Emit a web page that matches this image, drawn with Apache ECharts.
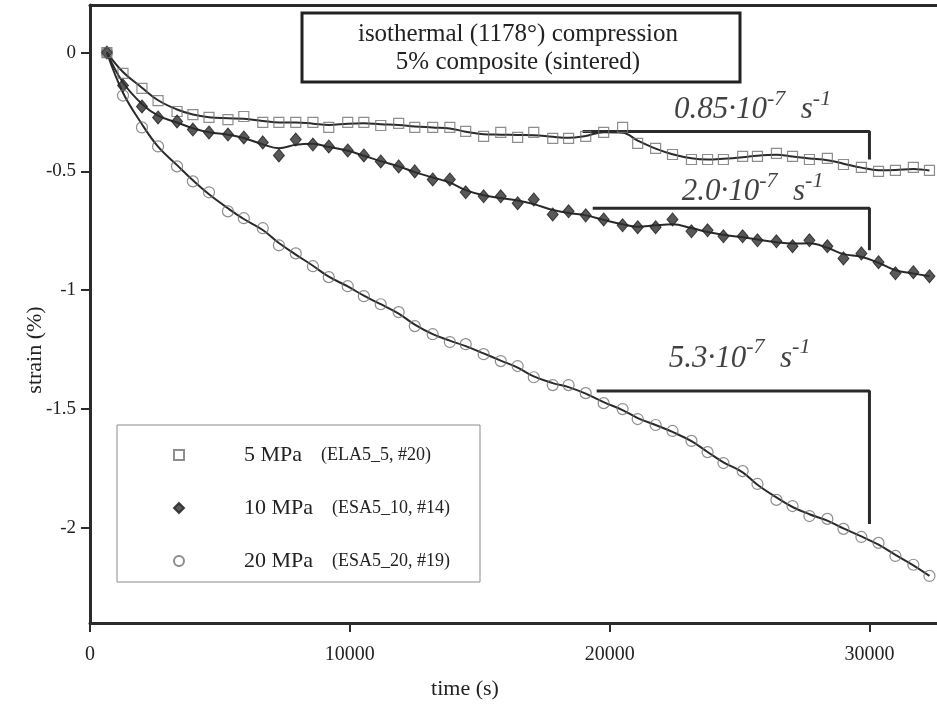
<!DOCTYPE html>
<html>
<head>
<meta charset="utf-8">
<script src="https://cdn.jsdelivr.net/npm/echarts@6/dist/echarts.min.js"></script>
<style>
  html, body { margin: 0; padding: 0; background: #fff; }
  #chart { width: 937px; height: 704px; }
</style>
</head>
<body>
<div id="chart"></div>
<script>
// Sampling times (s), shared by the three creep runs
const timeS = [650, 1270, 2000, 2620, 3350, 3960, 4580, 5310, 5920, 6650,
  7270, 7920, 8580, 9190, 9920, 10540, 11190, 11880, 12500, 13190,
  13850, 14460, 15150, 15810, 16460, 17080, 17810, 18420, 19080, 19770,
  20500, 21080, 21770, 22420, 23150, 23770, 24380, 25120, 25690, 26420,
  27040, 27690, 28380, 29000, 29690, 30350, 31000, 31690, 32310];

// Strain (%) at 5 MPa
const strain5 = [0, -0.088, -0.151, -0.202, -0.248, -0.261, -0.273, -0.282, -0.269, -0.294,
  -0.294, -0.294, -0.294, -0.315, -0.294, -0.294, -0.307, -0.298, -0.315, -0.315,
  -0.315, -0.332, -0.353, -0.336, -0.357, -0.336, -0.361, -0.361, -0.353, -0.336,
  -0.315, -0.382, -0.403, -0.429, -0.450, -0.450, -0.450, -0.437, -0.437, -0.424,
  -0.437, -0.450, -0.445, -0.471, -0.483, -0.500, -0.496, -0.483, -0.496];

// Strain (%) at 10 MPa
const strain10 = [0, -0.139, -0.227, -0.273, -0.290, -0.324, -0.336, -0.345, -0.357, -0.378,
  -0.433, -0.366, -0.387, -0.395, -0.412, -0.433, -0.458, -0.479, -0.500, -0.534,
  -0.534, -0.588, -0.605, -0.605, -0.634, -0.618, -0.681, -0.668, -0.685, -0.702,
  -0.727, -0.735, -0.735, -0.702, -0.752, -0.748, -0.773, -0.773, -0.790, -0.794,
  -0.815, -0.790, -0.815, -0.866, -0.845, -0.882, -0.929, -0.924, -0.941];

// Strain (%) at 20 MPa
const strain20 = [0, -0.181, -0.315, -0.395, -0.479, -0.542, -0.588, -0.668, -0.697, -0.739,
  -0.811, -0.845, -0.899, -0.945, -0.983, -1.025, -1.059, -1.092, -1.151, -1.185,
  -1.218, -1.227, -1.269, -1.298, -1.319, -1.366, -1.399, -1.399, -1.433, -1.475,
  -1.500, -1.542, -1.567, -1.592, -1.634, -1.681, -1.727, -1.761, -1.815, -1.882,
  -1.908, -1.950, -1.962, -2.004, -2.038, -2.063, -2.118, -2.155, -2.202];

const seriesNames = ['5 MPa', '10 MPa', '20 MPa'];
const sampleIds = ['(ELA5_5, #20)', '(ESA5_10, #14)', '(ESA5_20, #19)'];

const xTicks = [0, 10000, 20000, 30000];
const yTicks = [0, -0.5, -1, -1.5, -2];

// Slope guides: horizontal run then vertical drop
const guide085 = [[18960, -0.332], [30000, -0.332], [30000, -0.450]];
const guide20 = [[19350, -0.655], [30000, -0.655], [30000, -0.832]];
const guide53 = [[19500, -1.424], [30000, -1.424], [30000, -1.983]];

// Strain-rate captions: [time, strain] anchor and mantissa
const rateAnchors = [[25500, -0.228], [25500, -0.573], [25000, -1.275]];
const rateMantissas = ['0.85', '2.0', '5.3'];

const SERIF = '"Liberation Serif", "Times New Roman", serif';
const INK = '#222';

// Light three-point running mean used for the drawn fit curves
function fitCurve(values) {
  return values.map((v, i) => {
    if (i === 0 || i === values.length - 1) return v;
    return 0.25 * values[i - 1] + 0.5 * v + 0.25 * values[i + 1];
  });
}
function pairs(xs, ys) { return xs.map((x, i) => [x, ys[i]]); }

const strains = [strain5, strain10, strain20];
const markerStyles = [
  { symbol: 'rect', size: 10, item: { color: 'rgba(255,255,255,0)', borderColor: '#707070', borderWidth: 1.2 } },
  { symbol: 'diamond', size: [11, 13], item: { color: '#2e2e2e', borderColor: '#1e1e1e', borderWidth: 1 } },
  { symbol: 'circle', size: 11, item: { color: 'rgba(255,255,255,0)', borderColor: '#707070', borderWidth: 1.2 } }
];

const series = [];
strains.forEach((ys, k) => {
  series.push({
    name: 'fit ' + seriesNames[k],
    type: 'line',
    data: pairs(timeS, fitCurve(ys)),
    smooth: 0.4,
    showSymbol: false,
    lineStyle: { color: '#2a2a2a', width: 2 },
    z: 2,
    silent: true
  });
  series.push({
    name: seriesNames[k],
    type: 'scatter',
    data: pairs(timeS, ys),
    symbol: markerStyles[k].symbol,
    symbolSize: markerStyles[k].size,
    itemStyle: markerStyles[k].item,
    z: 3
  });
});

[guide085, guide20, guide53].forEach(g => {
  series.push({
    type: 'line',
    data: g,
    showSymbol: false,
    lineStyle: { color: '#2a2a2a', width: 3 },
    z: 2,
    silent: true
  });
});

series.push({
  name: 'rate captions',
  type: 'scatter',
  data: rateAnchors.map((p, i) => ({ value: p, mant: rateMantissas[i] })),
  symbolSize: 1,
  itemStyle: { color: 'rgba(0,0,0,0)' },
  label: {
    show: true,
    position: 'inside',
    formatter: p => `{b|${p.data.mant}·10}{s|-7}{b|  s}{s|-1}`,
    rich: {
      b: { fontFamily: SERIF, fontStyle: 'italic', fontSize: 31, color: '#111', lineHeight: 38, verticalAlign: 'bottom' },
      s: { fontFamily: SERIF, fontStyle: 'italic', fontSize: 22, color: '#111', lineHeight: 38, verticalAlign: 'top' }
    }
  },
  z: 4,
  silent: true
});

const axisLineStyle = { color: '#2b2b2b', width: 3 };

const option = {
  animation: false,
  backgroundColor: '#fff',
  grid: { left: 90, right: 0, top: 5, height: 618, containLabel: false },
  xAxis: [{
    type: 'value', min: 0, max: 32600,
    axisLine: { show: true, onZero: false, lineStyle: axisLineStyle },
    axisTick: { show: true, length: 9, inside: false, lineStyle: { color: '#2b2b2b', width: 2 }, customValues: xTicks },
    axisLabel: { customValues: xTicks, margin: 22, fontFamily: SERIF, fontSize: 20, color: INK,
      formatter: v => String(v) },
    splitLine: { show: false }
  }, {
    type: 'value', min: 0, max: 32600, position: 'top',
    axisLine: { show: true, onZero: false, lineStyle: axisLineStyle },
    axisTick: { show: false }, axisLabel: { show: false }, splitLine: { show: false }
  }],
  yAxis: {
    type: 'value', min: -2.4, max: 0.2,
    axisLine: { show: true, onZero: false, lineStyle: axisLineStyle },
    axisTick: { show: true, length: 9, lineStyle: { color: '#2b2b2b', width: 2 }, customValues: yTicks },
    axisLabel: { customValues: yTicks, margin: 14, fontFamily: SERIF, fontSize: 19, color: INK,
      formatter: v => (v === 0 ? '0' : String(v)) },
    splitLine: { show: false }
  },
  legend: {
    data: seriesNames,
    orient: 'vertical',
    left: 173, top: 442,
    padding: 0,
    itemWidth: 10, itemHeight: 10, itemGap: 27,
    z: 6,
    formatter: name => {
      const i = seriesNames.indexOf(name);
      return `{p| }{n|${name}}{g| }{s|${sampleIds[i]}}`;
    },
    textStyle: {
      lineHeight: 26,
      rich: {
        p: { width: 55 },
        n: { fontFamily: SERIF, fontSize: 22, color: INK },
        g: { width: 19 },
        s: { fontFamily: SERIF, fontSize: 18, color: INK }
      }
    }
  },
  graphic: [
    { type: 'rect', z: 1, shape: { x: 117, y: 425, width: 363, height: 157 },
      style: { fill: '#fff', stroke: '#8a8a8a', lineWidth: 1 } },
    { type: 'rect', z: 1, shape: { x: 302, y: 13, width: 438, height: 69 },
      style: { fill: '#fff', stroke: '#222', lineWidth: 3 } },
    { type: 'text', z: 2, x: 518, y: 34,
      style: { text: 'isothermal (1178°) compression', font: '25px ' + SERIF, fill: INK, align: 'center', verticalAlign: 'middle' } },
    { type: 'text', z: 2, x: 518, y: 62,
      style: { text: '5% composite (sintered)', font: '25px ' + SERIF, fill: INK, align: 'center', verticalAlign: 'middle' } },
    { type: 'text', z: 2, x: 35, y: 350, rotation: Math.PI / 2,
      style: { text: 'strain (%)', font: '22px ' + SERIF, fill: INK, align: 'center', verticalAlign: 'middle' } },
    { type: 'text', z: 2, x: 465, y: 689,
      style: { text: 'time (s)', font: '22px ' + SERIF, fill: INK, align: 'center', verticalAlign: 'middle' } }
  ],
  series: series
};

const chart = echarts.init(document.getElementById('chart'), null, { renderer: 'canvas' });
chart.setOption(option);
</script>
</body>
</html>
